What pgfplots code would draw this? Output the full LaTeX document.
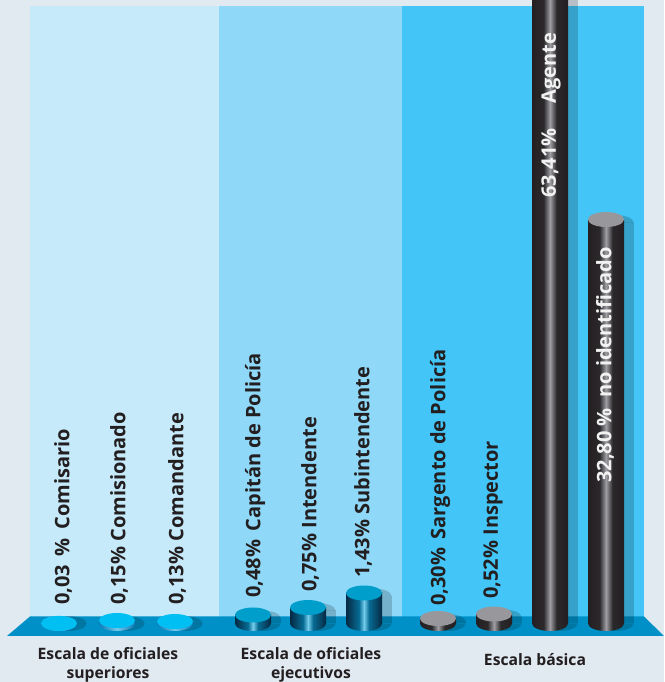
\documentclass[border=0pt]{standalone}
\usepackage{fontspec}
\setmainfont{Open Sans}
\usepackage{pgfplots}
\pgfplotsset{compat=1.18}

\definecolor{bgcol}{HTML}{E1E9F1}
\definecolor{panelA}{HTML}{C6EAFA}
\definecolor{panelB}{HTML}{8FD8F8}
\definecolor{panelC}{HTML}{43C6F7}
\definecolor{floorcol}{HTML}{0090C8}
\definecolor{ink}{HTML}{231F20}
\definecolor{topcyan}{HTML}{00BFF3}
\definecolor{topblue}{HTML}{009FCB}
\definecolor{topgray}{HTML}{98989C}

% side of the cylinders, dark at the edges and light in the middle
\pgfdeclarehorizontalshading{cylcyan}{100bp}{rgb(0bp)=(0.05,0.48,0.72);
  rgb(25bp)=(0.05,0.48,0.72); rgb(50bp)=(0.45,0.78,0.92);
  rgb(75bp)=(0.05,0.48,0.72); rgb(100bp)=(0.05,0.48,0.72)}
\pgfdeclarehorizontalshading{cylblue}{100bp}{rgb(0bp)=(0.02,0.16,0.26);
  rgb(25bp)=(0.02,0.16,0.26); rgb(43bp)=(0.03,0.42,0.58);
  rgb(50bp)=(0.45,0.80,0.92); rgb(57bp)=(0.03,0.42,0.58);
  rgb(75bp)=(0.02,0.16,0.26); rgb(100bp)=(0.02,0.16,0.26)}
\pgfdeclarehorizontalshading{cylgray}{100bp}{rgb(0bp)=(0.14,0.12,0.13);
  rgb(25bp)=(0.14,0.12,0.13); rgb(41bp)=(0.17,0.16,0.17);
  rgb(50bp)=(0.62,0.62,0.64); rgb(59bp)=(0.17,0.16,0.17);
  rgb(75bp)=(0.14,0.12,0.13); rgb(100bp)=(0.14,0.12,0.13)}

\pgfdeclareplotmark{cyltop}{%
  \pgfpathellipse{\pgfpointorigin}{\pgfqpoint{18pt}{0pt}}{\pgfqpoint{0pt}{7.5pt}}%
  \pgfusepathqfill}
\pgfdeclareplotmark{cylcyan}{%
  \pgfpathellipse{\pgfpointorigin}{\pgfqpoint{18pt}{0pt}}{\pgfqpoint{0pt}{7.5pt}}%
  \pgfshadepath{cylcyan}{0}\pgfusepath{discard}}
\pgfdeclareplotmark{cylblue}{%
  \pgfpathellipse{\pgfpointorigin}{\pgfqpoint{18pt}{0pt}}{\pgfqpoint{0pt}{7.5pt}}%
  \pgfshadepath{cylblue}{0}\pgfusepath{discard}}
\pgfdeclareplotmark{cylgray}{%
  \pgfpathellipse{\pgfpointorigin}{\pgfqpoint{18pt}{0pt}}{\pgfqpoint{0pt}{7.5pt}}%
  \pgfshadepath{cylgray}{0}\pgfusepath{discard}}
% halves of an ellipse, so the shadow does not darken twice where it meets its bar
\pgfdeclareplotmark{shadowUp}{%
  \pgfpathmoveto{\pgfqpoint{-18pt}{0pt}}%
  \pgfpatharc{180}{0}{18pt and 7.5pt}\pgfpathclose\pgfusepathqfill}
\pgfdeclareplotmark{shadowDown}{%
  \pgfpathmoveto{\pgfqpoint{-18pt}{0pt}}%
  \pgfpatharc{180}{360}{18pt and 7.5pt}\pgfpathclose\pgfusepathqfill}

% one cylinder: x, h, shading, colour of the top. h is the height on the page
% (the chart is not drawn to scale). A bar plot is one path, so each bar needs its own \addplot
\newcommand{\cylinder}[4]{%
  \addplot[ybar,bar shift=9.5pt,bar width=36pt,fill=black,draw=none,fill opacity=.18]
    table[row sep=crcr,x=x,y expr={max(\thisrow{h}-3,0)}] {x h\\ #1 #2\\};
  \addplot[only marks,mark=shadowUp,mark options={fill=black,draw=none,fill opacity=.18,xshift=9.5pt}]
    table[row sep=crcr,x=x,y expr={max(\thisrow{h}-3,0)}] {x h\\ #1 #2\\};
  \addplot[only marks,mark=shadowDown,mark options={fill=black,draw=none,fill opacity=.18,xshift=9.5pt}]
    coordinates {(#1,0)};
  \addplot[only marks,mark=#3] coordinates {(#1,0)};
  \addplot[ybar,bar shift=0pt,bar width=36pt,draw=none,shade,shading=#3] coordinates {(#1,#2)};
  \addplot[only marks,mark=cyltop,mark options={fill=#4,draw=none}] coordinates {(#1,#2)};
}
\newcommand{\rotlabel}[3]{\node[rotate=90,anchor=west,text=ink,font=\bfseries\fontsize{20}{22}\selectfont,inner sep=0pt] at (axis cs:#1,#2) {#3};}

\begin{document}
\begin{tikzpicture}
\path[use as bounding box] (0,0) rectangle (664pt,682pt);
\begin{axis}[
    scale only axis,
    width=664pt, height=682pt,
    xmin=0, xmax=664,
    ymin=-58.5, ymax=623.5,
    hide axis,
  ]
% background, panels and floor
\addplot[fill=bgcol,draw=none] coordinates {(0,-58.5) (664,-58.5) (664,623.5) (0,623.5)} --cycle;
\addplot[fill=panelA,draw=none] coordinates {(30,0) (219,0) (219,617.5) (30,617.5)} --cycle;
\addplot[fill=panelB,draw=none] coordinates {(219,0) (402,0) (402,617.5) (219,617.5)} --cycle;
\addplot[fill=panelC,draw=none] coordinates {(402,0) (644,0) (644,617.5) (402,617.5)} --cycle;
\addplot[fill=floorcol,draw=none] coordinates {(7,-12.5) (664,-12.5) (644,7) (30,7)} --cycle;

% cylinders
\cylinder{59}{0.1}{cylcyan}{topcyan}
\cylinder{117}{3}{cylcyan}{topcyan}
\cylinder{175}{2}{cylcyan}{topcyan}
\cylinder{253}{8.5}{cylblue}{topblue}
\cylinder{308}{16}{cylblue}{topblue}
\cylinder{364}{30.5}{cylblue}{topblue}
\cylinder{438}{5}{cylgray}{topgray}
\cylinder{494}{9.5}{cylgray}{topgray}
\cylinder{550}{780}{cylgray}{topgray}
\cylinder{606}{404}{cylgray}{topgray}

% rotated labels (position: x, height of the first letter)
\rotlabel{63}{18.5}{0,03 \,\% \,Comisario}
\rotlabel{119}{18.5}{0,15\% Comisionado}
\rotlabel{177}{18.5}{0,13\% Comandante}
\rotlabel{255}{25.5}{0,48\% \,Capitán de Policía}
\rotlabel{310}{31.5}{0,75\% Intendente}
\rotlabel{363}{45.5}{1,43\% Subintendente}
\rotlabel{440}{17.5}{0,30\% \,Sargento de Policía}
\rotlabel{493}{24.5}{0,52\% Inspector}
\node[rotate=90,anchor=west,text=white!95!black,font=\bfseries\fontsize{20}{22}\selectfont,inner sep=0pt] at (axis cs:551,425.5) {63,41\% \quad Agente};
\node[rotate=90,anchor=west,text=white!95!black,font=\bfseries\fontsize{20}{22}\selectfont,inner sep=0pt] at (axis cs:605,140.5) {32,80 \% \ no identificado};

% group names under the floor
\node[align=center,text=ink,font=\bfseries\fontsize{15.7}{19}\selectfont] at (axis cs:108,-41) {Escala de oficiales\\superiores};
\node[align=center,text=ink,font=\bfseries\fontsize{15.7}{19}\selectfont] at (axis cs:311,-41) {Escala de oficiales\\ejecutivos};
\node[text=ink,font=\bfseries\fontsize{15.7}{19}\selectfont] at (axis cs:535,-36.5) {Escala básica};
\end{axis}
\end{tikzpicture}
\end{document}
